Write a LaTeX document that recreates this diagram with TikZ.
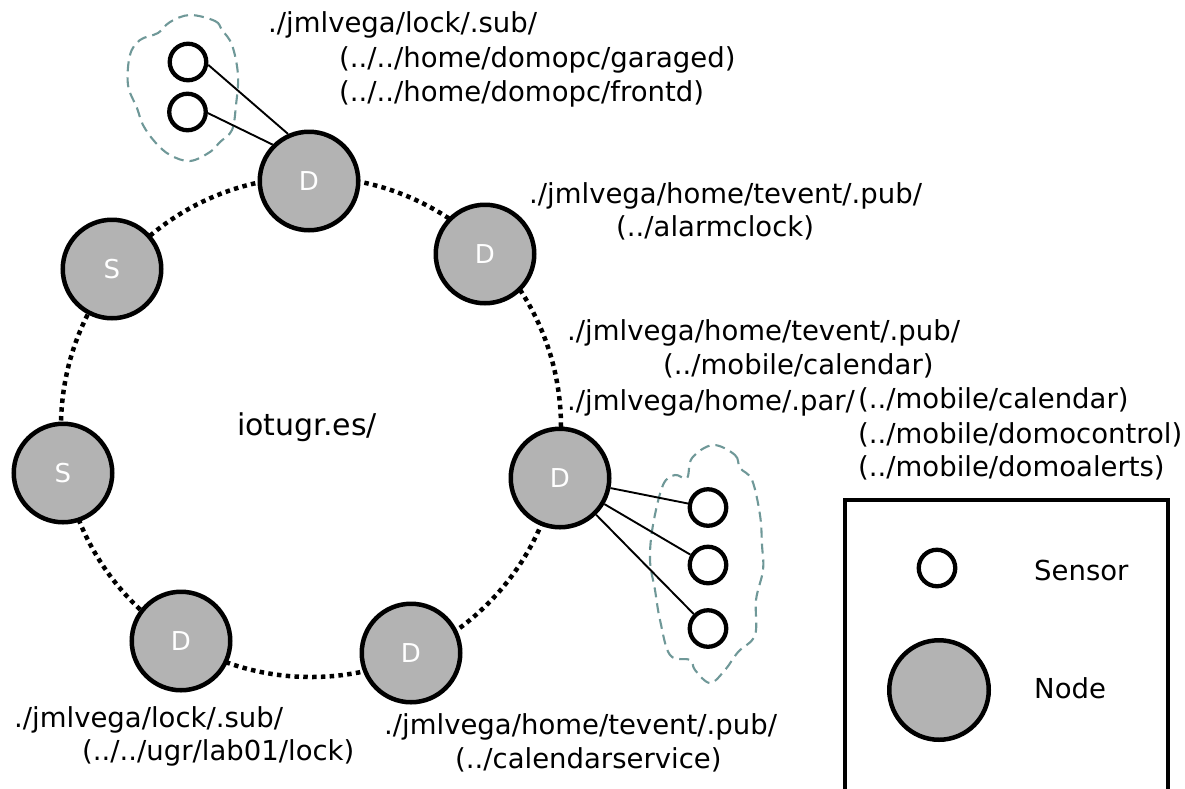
\documentclass[tikz,border=0pt]{standalone}
\usepackage{fontspec}
\setmainfont{DejaVu Sans}
\definecolor{nodegray}{HTML}{B3B3B3}
\definecolor{cloudgray}{HTML}{6F9898}
\begin{document}
\begin{tikzpicture}[x=1pt,y=-1pt,
  ring/.style={line width=4.5pt, dash pattern=on 4.5pt off 4.3pt},
  netnode/.style={circle, draw, line width=4.5pt, fill=nodegray, minimum size=98.5pt,
    inner sep=0pt, text=white, font=\fontsize{26}{30}\selectfont},
  sensor/.style={circle, draw, line width=4.3pt, fill=white, minimum size=36.5pt, inner sep=0pt},
  link/.style={line width=1.9pt},
  groupline/.style={draw=cloudgray, line width=2.1pt, dash pattern=on 10pt off 6pt},
  lbl/.style={anchor=base west, inner sep=0pt, font=\fontsize{27.5}{32}\selectfont},
]
\useasboundingbox (0,0) rectangle (1185,788);

% overlay ring
\draw[ring] (311,427) circle[radius=250];

% sensor groups
\draw[groupline] plot[smooth cycle, tension=0.6] coordinates {
  (190,15) (215,21) (222,30) (232,45) (238,75) (236,105) (232,130) (220,142)
  (210,152) (190,161) (170,155) (155,142) (143,125) (137,108) (128,85)
  (130,55) (140,40) (158,33) (170,22)};
\draw[groupline] plot[smooth cycle, tension=0.6] coordinates {
  (713,445) (735,455) (740,468) (752,480) (760,515) (762,545) (763,570)
  (756,600) (755,635) (738,652) (725,670) (710,683) (695,670) (690,660)
  (670,655) (660,620) (655,590) (650,560) (653,525) (663,485) (675,475)
  (687,478) (692,458)};

% ring members
\node[netnode] (dtop)  at (309,181) {D};
\node[netnode] (dnear) at (485,254) {D};
\node[netnode] (stop)  at (112,269) {S};
\node[netnode] (sleft) at (63,473)  {S};
\node[netnode] (dright) at (560,478) {D};
\node[netnode] (dbl)   at (181,641) {D};
\node[netnode] (dbot)  at (411,653) {D};

% sensors
\node[sensor] (s1) at (188,62) {};
\node[sensor] (s2) at (187.5,112) {};
\node[sensor] (s3) at (708,507.5) {};
\node[sensor] (s4) at (708,565) {};
\node[sensor] (s5) at (708,628.5) {};

\draw[link] (s1.-8) -- (dtop.114);
\draw[link] (s2.-3) -- (dtop.135);
\draw[link] (dright) -- (s3);
\draw[link] (dright) -- (s4);
\draw[link] (dright) -- (s5);

% labels
\node[lbl, font=\fontsize{30}{34}\selectfont] (domain) at (237,435) {iotugr.es/};

\node[lbl] (t1) at (268,32)  {./jmlvega/lock/.sub/};
\node[lbl] (t2) at (339,67)  {(../../home/domopc/garaged)};
\node[lbl] (t3) at (339,101) {(../../home/domopc/frontd)};

\node[lbl] (a1) at (529,203) {./jmlvega/home/tevent/.pub/};
\node[lbl] (a2) at (616,236) {(../alarmclock)};

\node[lbl] (m1) at (567,340) {./jmlvega/home/tevent/.pub/};
\node[lbl] (m2) at (663,374) {(../mobile/calendar)};
\node[lbl] (m3) at (567,410) {./jmlvega/home/.par/};
\node[lbl] (m4) at (858,408) {(../mobile/calendar)};
\node[lbl] (m5) at (858,443) {(../mobile/domocontrol)};
\node[lbl] (m6) at (858,476) {(../mobile/domoalerts)};

\node[lbl] (b1) at (14,727) {./jmlvega/lock/.sub/};
\node[lbl] (b2) at (82,760) {(../../ugr/lab01/lock)};

\node[lbl] (c1) at (384,734) {./jmlvega/home/tevent/.pub/};
\node[lbl] (c2) at (455,768) {(../calendarservice)};

% legend
\begin{scope}
  \clip (0,0) rectangle (1185,788);
  \draw[line width=4.5pt] (845,800) |- (1168,500) -- (1168,800);
\end{scope}
\node[sensor] (ksensor) at (937,568) {};
\node[netnode, minimum size=99.5pt] (knode) at (939,690) {};
\node[lbl] (ktext1) at (1034,580) {Sensor};
\node[lbl] (ktext2) at (1034,698) {Node};
\end{tikzpicture}
\end{document}
